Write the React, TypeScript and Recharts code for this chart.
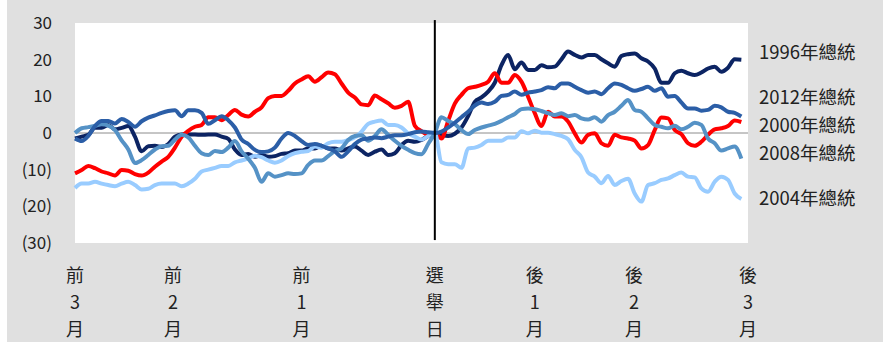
import { LineChart, Line, XAxis, YAxis, CartesianGrid, ReferenceLine, ReferenceDot } from 'recharts';

// trading-day offsets around election day (0)
const days = Array.from({ length: 101 }, (_, i) => i - 54);

const pres1996 = [
    -1.5, -1.0, -0.5, 1.4, 1.4, 2.2, 1.0, 1.4, 1.9, -1.0, -5.0, -3.6, -3.5, -3.8, -3.0, -1.0, -0.4, -0.4, -0.4, -0.5, -0.4, -0.4, -1.0, -1.6, -4.5, -6.0,
    -5.7, -6.5, -6.0, -6.5, -6.3, -5.7, -5.5, -4.8, -4.8, -4.2, -4.2, -3.5, -4.2, -4.2, -4.8, -4.2, -3.7, -4.8, -6.0, -5.1, -4.5, -6.0, -5.5, -3.3, -2.1,
    -2.4, -1.9, -0.8, 0,
    -0.5, -0.8, -0.2, 1.5, 4.6, 8.5, 9.7, 11.3, 13.7, 18.5, 21.3, 17.4, 19.2, 17.2, 17.2, 18.5, 17.9, 18.1, 20.1, 22.2, 21.3,
    20.6, 21.3, 21.3, 20.1, 19.0, 18.1, 21.0, 21.5, 21.7, 20.4, 19.5, 17.6, 13.7, 13.7, 16.3, 17.0, 16.3, 15.8, 16.5, 17.6, 18.1, 16.7, 17.8, 20.1, 20.0,
];

const pres2000 = [
    -11.0, -10.1, -9.0, -9.6, -10.5, -11.0, -11.6, -10.1, -10.3, -11.2, -11.6, -10.8, -9.2, -7.8, -6.5, -4.0, -1.0, 0.6, 1.7, 2.2, 4.3, 4.3, 3.5, 4.9, 6.3, 5.0,
    4.5, 5.8, 7.0, 9.5, 10.1, 10.1, 11.5, 13.5, 14.6, 15.5, 14.0, 15.2, 16.5, 16.0, 13.5, 11.0, 9.7, 7.8, 7.6, 10.2, 9.2, 8.1, 6.9, 7.4, 8.5,
    2.0, 0.5, -0.5, 0,
    -1.5, 3.3, 8.0, 10.4, 12.2, 12.6, 13.1, 14.0, 16.3, 13.7, 13.7, 15.8, 14.0, 9.9, 5.4, 1.9, 5.8, 4.5, 4.5, 3.1, -0.1,
    -2.6, -0.5, -0.1, -2.8, -3.5, -0.5, -1.2, -1.5, -2.1, -4.2, -3.3, 0.8, 4.2, 4.0, 0.8, -0.3, -2.8, -3.5, -2.4, -0.5, 1.0, 1.3, 1.9, 3.4, 3.0,
];

const pres2004 = [
    -15.0, -13.8, -13.8, -13.3, -13.8, -14.2, -14.5, -13.8, -13.3, -14.2, -15.4, -15.2, -14.2, -13.8, -13.8, -13.8, -14.5, -13.8, -12.5, -10.5, -10.0, -9.5, -9.0, -9.0, -8.0, -7.5,
    -6.9, -6.2, -6.6, -7.5, -8.1, -7.5, -6.3, -5.5, -5.1, -4.9, -3.7, -4.0, -2.8, -2.4, -2.4, -1.9, -1.2, 0.4, 2.5, 3.1, 3.4, 2.2, 2.2, 1.5, -0.1,
    -1.0, -1.8, -0.8, 0,
    -8.0, -8.5, -8.5, -9.5, -4.2, -4.0, -3.3, -2.1, -2.1, -2.1, -1.2, -1.2, 0.5, -0.1, 0.6, 0.1, 0.1, -0.3, -0.8, -1.7, -4.6,
    -6.6, -10.8, -11.9, -13.7, -11.7, -14.2, -13.1, -12.5, -16.5, -18.7, -14.2, -13.7, -12.8, -12.4, -11.5, -10.8, -11.9, -12.1, -15.1, -16.0, -13.3, -11.9, -12.8, -16.5, -18.0,
];

const pres2008 = [
    0.0, 1.3, 1.6, 1.9, 2.4, 2.0, 0.8, -2.0, -4.5, -8.2, -7.4, -6.0, -4.5, -3.6, -3.5, -1.8, -0.5, -1.2, -3.5, -5.5, -6.0, -4.9, -5.2, -4.0, -2.2, -5.0,
    -7.0, -9.5, -13.3, -11.0, -11.9, -11.5, -11.0, -11.2, -11.0, -8.7, -7.5, -7.5, -6.3, -4.9, -4.2, -1.9, -0.8, -0.6, -2.1, -0.8, 1.0, -0.5, -2.1, -3.5, -4.6,
    -5.5, -5.8, -3.0, 0,
    4.3, 3.3, 2.4, 0.8, -0.3, 0.8, 1.5, 2.0, 2.5, 3.3, 4.3, 5.2, 6.5, 6.7, 6.5, 6.0, 5.4, 4.9, 5.4, 4.6, 4.9,
    4.0, 3.7, 4.3, 3.1, 4.9, 5.8, 7.4, 9.0, 6.3, 5.8, 4.0, 2.2, 1.7, 1.3, 2.0, 1.0, 1.7, 2.8, 2.2, -1.5, -2.8, -4.8, -4.2, -3.7, -7.0,
];

const pres2012 = [
    -1.5, -2.2, -0.8, 1.9, 3.3, 3.3, 2.6, 3.8, 3.0, 1.7, 3.2, 4.2, 4.8, 5.5, 6.0, 6.2, 4.6, 6.2, 6.2, 5.5, 2.5, 3.5, 4.6, 3.5, 1.5, -1.8,
    -3.0, -4.6, -5.2, -5.0, -4.0, -1.5, 0.0, -0.8, -2.2, -3.3, -3.0, -3.5, -4.2, -5.0, -6.5, -5.0, -3.0, -1.8, -1.5, -1.2, -1.4, -1.0, -0.6, -0.6, -0.3,
    0.2, 0.4, 0.2, 0,
    0.4, 1.5, 2.8, 4.3, 5.8, 7.5, 8.3, 7.9, 8.5, 10.1, 10.4, 11.3, 10.4, 11.0, 11.3, 11.7, 12.5, 12.2, 13.5, 13.5, 12.6,
    11.7, 11.0, 11.3, 10.6, 12.2, 13.5, 13.1, 12.2, 11.5, 12.0, 12.6, 11.5, 12.2, 9.9, 10.1, 8.3, 6.7, 6.7, 6.1, 6.3, 7.4, 7.0, 5.8, 5.5, 4.5,
];

const xTicks = [-54, -39.3, -20, 0, 15, 29.9, 47];
const xTickLabels = ['前3月', '前2月', '前1月', '選舉日', '後1月', '後2月', '後3月'];
const yTicks = [-30, -20, -10, 0, 10, 20, 30];

const data = days.map((day, i) => ({
    day,
    y1996: pres1996[i],
    y2000: pres2000[i],
    y2004: pres2004[i],
    y2008: pres2008[i],
    y2012: pres2012[i],
}));

// drawing order + end labels (label anchor in value units)
const series = [
    { key: 'y1996', name: '1996年總統', color: '#0c2463', labelAt: 22 },
    { key: 'y2000', name: '2000年總統', color: '#ff0000', labelAt: 2.2 },
    { key: 'y2004', name: '2004年總統', color: '#99ccff', labelAt: -17.9 },
    { key: 'y2008', name: '2008年總統', color: '#5592c6', labelAt: -5.6 },
    { key: 'y2012', name: '2012年總統', color: '#2b5ea7', labelAt: 9.8 },
];

const FONT = '"Noto Sans CJK TC", "Noto Sans", sans-serif';
const TEXT = '#222222';

function fmtY(v: number) {
    return v < 0 ? `(${-v})` : `${v}`;
}

function StackedTick({ x, y, payload }: any) {
    const idx = xTicks.indexOf(payload.value);
    const chars = Array.from(idx >= 0 ? xTickLabels[idx] : '');
    return (
        <text x={x} y={y} textAnchor="middle" fill={TEXT} fontSize={18} fontFamily={FONT}>
            {chars.map((c, i) => (
                <tspan key={i} x={x} dy={i === 0 ? 37 : 27}>{c}</tspan>
            ))}
        </text>
    );
}

export default function App() {
    return (
        <div style={{ position: 'absolute', left: 7, top: 0, width: 876, height: 342, background: '#e0e0e0', fontFamily: FONT }}>
            <LineChart width={876} height={342} data={data} margin={{ top: 23, right: 135, bottom: 0, left: 0 }}>
                <CartesianGrid horizontal={false} vertical={false} fill="#ffffff" stroke="none" />
                <XAxis
                    dataKey="day"
                    type="number"
                    domain={[-54, 47]}
                    ticks={xTicks}
                    interval={0}
                    height={99}
                    axisLine={false}
                    tickLine={false}
                    tickSize={0}
                    tick={<StackedTick />}
                />
                <YAxis
                    type="number"
                    domain={[-30, 30]}
                    ticks={yTicks}
                    width={68}
                    axisLine={false}
                    tickLine={false}
                    tickSize={0}
                    tickMargin={23}
                    tickFormatter={fmtY}
                    tick={{ fontSize: 17, fill: TEXT, fontFamily: FONT }}
                />
                <ReferenceLine y={0} stroke="#8c8c8c" strokeWidth={1} />
                {series.map((s) => (
                    <Line
                        key={s.key}
                        type="monotone"
                        dataKey={s.key}
                        name={s.name}
                        stroke={s.color}
                        strokeWidth={4}
                        strokeLinejoin="round"
                        dot={false}
                        activeDot={false}
                        isAnimationActive={false}
                    />
                ))}
                <ReferenceLine
                    segment={[{ x: 0, y: 30.8 }, { x: 0, y: -29.2 }]}
                    stroke="#000000"
                    strokeWidth={2}
                    ifOverflow="visible"
                />
                {series.map((s) => (
                    <ReferenceDot
                        key={'lbl' + s.key}
                        x={47}
                        y={s.labelAt}
                        r={0}
                        fill="none"
                        stroke="none"
                        ifOverflow="visible"
                        label={{ value: s.name, position: 'right', offset: 11, fill: TEXT, fontSize: 18.5, fontFamily: FONT }}
                    />
                ))}
            </LineChart>
        </div>
    );
}
